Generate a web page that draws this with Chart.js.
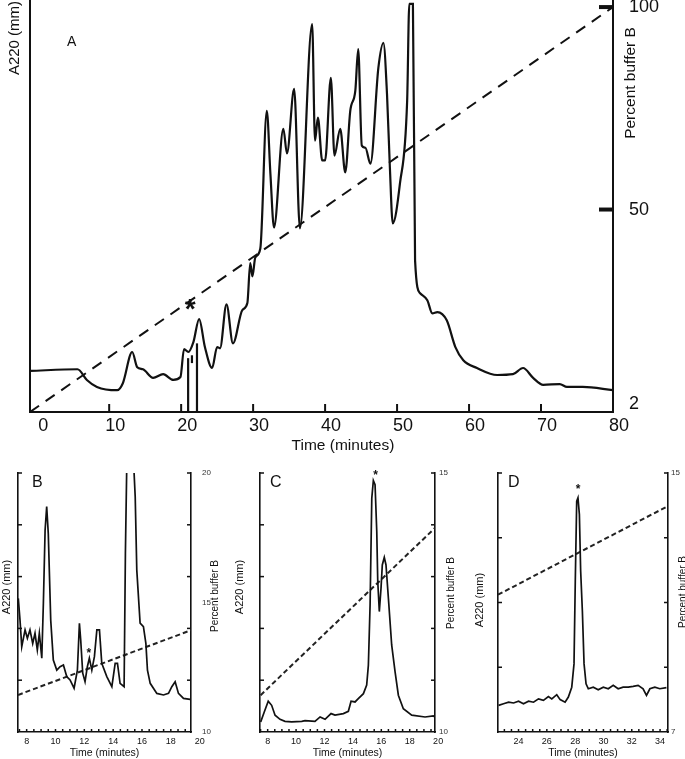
<!DOCTYPE html>
<html>
<head>
<meta charset="utf-8">
<script src="https://cdn.jsdelivr.net/npm/chart.js@4.4.1/dist/chart.umd.min.js"></script>
<style>
  html, body { margin: 0; padding: 0; background: #fff; }
  #wrap { position: relative; width: 685px; height: 759px; overflow: hidden; background: #fff; }
  canvas { position: absolute; }
</style>
</head>
<body>
<div id="wrap">
  <canvas id="chartA" width="685" height="455" style="left:0;top:0"></canvas>
  <canvas id="chartB" width="228" height="304" style="left:0;top:455px"></canvas>
  <canvas id="chartC" width="228" height="304" style="left:228px;top:455px"></canvas>
  <canvas id="chartD" width="229" height="304" style="left:456px;top:455px"></canvas>
</div>
<script>
// ---- panel A: whole run, 0-80 min ----
const timeA = [-1.0, 5.6, 6.9, 8.3, 11.1, 11.9, 13.2, 13.9, 14.7, 16.1, 17.5, 18.9, 19.9, 20.4, 21.0,
  21.7, 22.5, 23.3, 24.3, 25.0, 25.4, 26.3, 27.2, 28.5, 29.2, 29.6, 29.9, 30.3, 31.0, 31.9, 32.4,
  32.9, 34.2, 34.7, 35.7, 36.5, 38.2, 38.6, 39.0, 39.6, 40.0, 40.8, 41.3, 42.1, 42.8, 43.5, 44.2,
  44.6, 45.1, 45.6, 46.3, 47.4, 48.1, 48.6, 49.0, 49.4, 50.4, 51.4, 51.7, 52.2, 52.5, 53.2, 54.2,
  54.9, 55.6, 56.9, 58.1, 59.2, 61.1, 63.9, 66.1, 67.5, 68.9, 70.3, 72.6, 73.6, 75.8, 80.0];
const signalA = [10.0, 10.4, 7.8, 6.1, 5.3, 7.0, 14.6, 10.9, 10.4, 8.3, 9.2, 7.8, 8.5, 15.3, 14.6,
  17.0, 22.6, 15.8, 10.7, 15.8, 15.5, 26.2, 16.7, 24.8, 26.5, 36.2, 33.0, 37.6, 39.8, 73.3, 58.0,
  44.9, 68.9, 62.9, 78.6, 44.7, 94.4, 66.0, 71.6, 61.2, 61.2, 81.3, 62.4, 68.9, 58.3, 73.3, 78.2,
  88.3, 64.8, 64.3, 60.4, 83.7, 89.8, 77.4, 59.5, 45.9, 55.6, 75.7, 99.3, 99.3, 36.9, 28.9, 27.2,
  24.0, 24.3, 22.3, 15.8, 12.6, 10.7, 9.0, 9.2, 10.7, 8.3, 6.6, 6.8, 6.1, 6.1, 5.3];
const gradTimeA = [-1, 80];
const gradPctA = [0, 100];
const spikeTimeA = [20.97, 21.5, 22.2];
const spikeLowA = [0, 11.9, 0];
const spikeHighA = [13.1, 13.8, 16.7];
const xTicksA = [0, 10, 20, 30, 40, 50, 60, 70, 80];
const pctTicksA = [2, 50, 100];
const starA = [21.25, 26.9];

// ---- panel B ----
const timeB = [7.42, 7.54, 7.66, 7.89, 8.05, 8.23, 8.42, 8.58, 8.74, 8.88, 9.05, 9.16, 9.28, 9.39,
  9.50, 9.67, 9.85, 10.09, 10.32, 10.55, 10.78, 11.01, 11.29, 11.52, 11.66, 11.75, 11.89, 12.05,
  12.21, 12.35, 12.52, 12.70, 12.87, 13.05, 13.21, 13.56, 13.91, 14.14, 14.30, 14.48, 14.76, 14.85,
  14.95, 15.41, 15.53, 15.64, 15.87, 16.10, 16.27, 16.38, 16.57, 17.03, 17.49, 17.84, 18.07, 18.30,
  18.53, 18.88, 19.34];
const signalB = [51.6, 43.2, 32.9, 39.4, 36.2, 39.4, 34.2, 38.1, 31.7, 38.1, 28.5, 49.7, 78.0, 87.0,
  76.7, 43.2, 27.8, 23.9, 25.2, 25.9, 21.4, 20.1, 16.9, 23.9, 42.0, 35.5, 22.7, 19.4,
  25.2, 28.5, 23.9, 29.1, 39.4, 39.4, 26.5, 21.4, 17.5, 26.5, 26.5, 18.8, 17.5, 69.0,
  105, 105, 90.8, 62.5, 42.0, 40.7, 34.2, 23.9, 18.8, 14.9, 14.3, 14.9, 17.5, 19.4,
  14.9, 13.0, 12.6];
const gradTimeB = [7.4, 19.4];
const gradPctB = [11.43, 13.93];
const xTicksB = [8, 10, 12, 14, 16, 18, 20];
const pctTicksB = [10, 15, 20];
const starB = [12.31, 31.7];

// ---- panel C ----
const timeC = [7.51, 7.76, 8.04, 8.28, 8.52, 8.87, 9.22, 9.69, 10.40, 10.63, 11.33, 11.69, 12.04,
  12.46, 12.74, 13.33, 13.68, 13.87, 14.15, 14.38, 14.74, 14.97, 15.09, 15.21, 15.33, 15.44, 15.56,
  15.68, 15.75, 15.86, 15.98, 16.07, 16.21, 16.33, 16.50, 16.73, 16.97, 17.20, 17.55, 18.14, 19.08,
  19.66, 19.78];
const signalC = [3.9, 7.7, 11.9, 10.3, 6.5, 4.9, 4.1, 3.9, 4.1, 4.4, 4.1, 5.8, 4.9,
  7.1, 6.5, 7.1, 8.0, 11.9, 11.6, 12.9, 14.8, 18.1, 25.8, 49.0, 90.3, 97.1, 95.5,
  77.4, 58.1, 46.5, 55.5, 64.5, 67.4, 64.5, 51.6, 33.6, 23.2, 14.2, 9.0, 6.5, 5.8,
  6.2, 5.8];
const gradTimeC = [7.5, 19.78];
const gradPctC = [10.71, 13.94];
const xTicksC = [8, 10, 12, 14, 16, 18, 20];
const pctTicksC = [10, 15];
const starC = [15.6, 100.3];

// ---- panel D ----
const timeD = [22.59, 22.94, 23.30, 23.65, 24.00, 24.35, 24.71, 25.06, 25.41, 25.76, 26.11, 26.35,
  26.70, 26.94, 27.29, 27.52, 27.76, 27.92, 28.01, 28.11, 28.20, 28.30, 28.39, 28.51, 28.63, 28.77,
  28.93, 29.28, 29.63, 29.99, 30.34, 30.69, 31.04, 31.39, 31.75, 32.10, 32.45, 32.80, 33.04, 33.28,
  33.63, 33.98, 34.45];
const signalD = [10.3, 10.9, 11.5, 11.2, 11.9, 10.9, 11.9, 11.5, 12.8, 12.2, 13.7, 12.8,
  14.4, 12.5, 11.5, 13.5, 17.3, 26.3, 58.3, 89.1, 90.4, 84.0, 62.2, 46.8, 26.3, 18.6,
  16.7, 17.3, 16.3, 17.3, 16.7, 18.0, 16.7, 17.3, 17.3, 17.6, 18.0, 16.7, 14.1, 16.7,
  17.3, 16.7, 17.1];
const gradTimeD = [22.55, 34.56];
const gradPctD = [11.24, 13.98];
const xTicksD = [24, 26, 28, 30, 32, 34];
const pctTicksD = [7, 15];
const starD = [28.2, 94.9];

Chart.defaults.font.family = "'Liberation Sans', Arial, sans-serif";
Chart.defaults.color = '#111';

const INK = '#111';

function pts(xs, ys) {
  return xs.map((x, i) => ({ x: x, y: ys[i] }));
}

function steps(a, b, step) {
  const out = [];
  for (let v = a; v <= b + 1e-9; v += step) out.push(+v.toFixed(3));
  return out;
}

// keep the chart area exactly where the boxes put it
function fitH(h) {
  return s => { s.height = h; s.paddingLeft = 0; s.paddingRight = 0; };
}
function fitW(w) {
  return s => { s.width = w; s.paddingTop = 0; s.paddingBottom = 0; };
}

// little tick marks drawn inwards, free text and the asterisk
const deco = {
  id: 'deco',
  afterDraw(chart, args, o) {
    const { ctx, chartArea: a, scales } = chart;
    ctx.save();
    ctx.strokeStyle = INK;
    (o.marks || []).forEach(m => {
      const s = scales[m.scale];
      ctx.lineWidth = m.width;
      m.values.forEach(v => {
        const p = s.getPixelForValue(v);
        ctx.beginPath();
        if (m.side === 'bottom') { ctx.moveTo(p, a.bottom); ctx.lineTo(p, a.bottom - m.len); }
        else if (m.side === 'right') { ctx.moveTo(a.right, p); ctx.lineTo(a.right - m.len, p); }
        else { ctx.moveTo(a.left, p); ctx.lineTo(a.left + m.len, p); }
        ctx.stroke();
      });
    });
    ctx.fillStyle = INK;
    (o.texts || []).forEach(t => {
      const x = (t.from === 'right' ? a.right : a.left) + t.dx;
      const y = a.top + t.dy;
      ctx.save();
      ctx.font = t.font;
      ctx.textAlign = t.align || 'center';
      ctx.textBaseline = 'middle';
      ctx.translate(x, y);
      if (t.vertical) ctx.rotate(-Math.PI / 2);
      ctx.fillText(t.text, 0, 0);
      ctx.restore();
    });
    if (o.star) {
      const px = scales.x.getPixelForValue(o.star[0]);
      const py = scales.y.getPixelForValue(o.star[1]);
      ctx.font = 'bold ' + o.starSize + 'px "Liberation Sans", Arial, sans-serif';
      ctx.textAlign = 'center';
      ctx.textBaseline = 'alphabetic';
      ctx.fillText('*', px, py + o.starSize * 0.575);
    }
    ctx.restore();
  }
};

function hidden() {
  return { display: false, drawTicks: false };
}

// ---- chart A ----
const spikeSets = spikeTimeA.map((t, i) => ({
  data: pts([t, t], [spikeLowA[i], spikeHighA[i]]),
  yAxisID: 'y', borderColor: INK, borderWidth: 2.2, pointRadius: 0
}));

new Chart(document.getElementById('chartA'), {
  type: 'line',
  data: {
    datasets: [
      { data: pts(timeA, signalA), yAxisID: 'y', borderColor: INK, borderWidth: 2.2,
        pointRadius: 0, cubicInterpolationMode: 'monotone' },
      { data: pts(gradTimeA, gradPctA), yAxisID: 'y2', borderColor: INK, borderWidth: 2,
        borderDash: [11, 8], pointRadius: 0 },
      ...spikeSets
    ]
  },
  options: {
    responsive: false,
    animation: false,
    devicePixelRatio: 1,
    layout: { padding: { top: 1 } },
    plugins: {
      legend: { display: false },
      tooltip: { enabled: false },
      deco: {
        marks: [
          { scale: 'x', side: 'bottom', values: xTicksA.slice(1, -1), len: 8, width: 2 },
          { scale: 'y2', side: 'right', values: [50, 100], len: 14, width: 4 }
        ],
        texts: [
          { text: 'A220 (mm)', from: 'left', dx: -15, dy: 37, vertical: true, font: '15px "Liberation Sans", Arial' },
          { text: 'Percent buffer B', from: 'right', dx: 18, dy: 82, vertical: true, font: '15.5px "Liberation Sans", Arial' },
          { text: 'Time (minutes)', from: 'left', dx: 313, dy: 445, font: '15.5px "Liberation Sans", Arial' },
          { text: 'A', from: 'left', dx: 37, dy: 41, align: 'left', font: '14px "Liberation Sans", Arial' }
        ],
        star: starA,
        starSize: 28
      }
    },
    scales: {
      x: {
        type: 'linear', min: -1, max: 80,
        afterBuildTicks: s => { s.ticks = xTicksA.map(v => ({ value: v })); },
        afterFit: fitH(43),
        grid: hidden(),
        border: { color: INK, width: 2 },
        ticks: { color: INK, font: { size: 18 }, padding: 3, labelOffset: 6, maxRotation: 0, autoSkip: false }
      },
      y: {
        min: 0, max: 100,
        afterFit: fitW(30),
        grid: hidden(),
        border: { color: INK, width: 2 },
        ticks: { display: false }
      },
      y2: {
        position: 'right', min: 0, max: 101.5,
        afterBuildTicks: s => { s.ticks = pctTicksA.map(v => ({ value: v })); },
        afterFit: fitW(72),
        grid: hidden(),
        border: { color: INK, width: 2 },
        ticks: { color: INK, font: { size: 18 }, padding: 16 }
      }
    }
  },
  plugins: [deco]
});

// ---- small panels B, C, D ----
function smallPanel(id, p) {
  new Chart(document.getElementById(id), {
    type: 'line',
    data: {
      datasets: [
        { data: pts(p.time, p.signal), yAxisID: 'y', borderColor: INK, borderWidth: 1.7,
          pointRadius: 0, tension: 0 },
        { data: pts(p.gradTime, p.gradPct), yAxisID: 'y2', borderColor: '#222', borderWidth: 2,
          borderDash: [5, 3], pointRadius: 0 }
      ]
    },
    options: {
      responsive: false,
      animation: false,
      devicePixelRatio: 1,
      layout: { padding: { top: 18 } },
      plugins: {
        legend: { display: false },
        tooltip: { enabled: false },
        deco: {
          marks: [
            { scale: 'x', side: 'bottom', values: steps(Math.ceil(p.xMin * 2) / 2, p.xMax, 0.5), len: 3, width: 1.5 },
            { scale: 'y', side: 'left', values: p.leftMarks, len: 4, width: 1.5 },
            { scale: 'y', side: 'right', values: p.leftMarks, len: 4, width: 1.5 }
          ],
          texts: [
            { text: 'A220 (mm)', from: 'left', dx: p.leftTitleDx, dy: p.leftTitleDy, vertical: true, font: '11px "Liberation Sans", Arial' },
            { text: 'Percent buffer B', from: 'right', dx: p.rightTitleDx, dy: p.rightTitleDy, vertical: true, font: '10px "Liberation Sans", Arial' },
            { text: p.letter, from: 'left', dx: p.letterDx, dy: 9.5, align: 'left', font: '16px "Liberation Sans", Arial' }
          ],
          star: p.star,
          starSize: 12
        }
      },
      scales: {
        x: {
          type: 'linear', min: p.xMin, max: p.xMax,
          afterBuildTicks: s => { s.ticks = p.xTicks.map(v => ({ value: v })); },
          afterFit: fitH(27),
          grid: hidden(),
          border: { color: INK, width: 1.6 },
          ticks: { color: INK, font: { size: 9 }, padding: 4, maxRotation: 0, autoSkip: false },
          title: { display: true, text: 'Time (minutes)', color: INK, font: { size: 10.5 }, padding: { top: 0, bottom: 0 } }
        },
        y: {
          min: 0, max: 100,
          afterFit: fitW(p.leftW),
          grid: hidden(),
          border: { color: INK, width: 1.6 },
          ticks: { display: false }
        },
        y2: {
          position: 'right', min: p.pctMin, max: p.pctMax,
          afterBuildTicks: s => { s.ticks = p.pctTicks.map(v => ({ value: v })); },
          afterFit: fitW(p.rightW),
          grid: hidden(),
          border: { color: INK, width: 1.6 },
          ticks: { color: '#333', font: { size: 8 }, padding: p.pctPad }
        }
      }
    },
    plugins: [deco]
  });
}

smallPanel('chartB', {
  time: timeB, signal: signalB, gradTime: gradTimeB, gradPct: gradPctB,
  xMin: 7.4, xMax: 19.4, xTicks: xTicksB, pctMin: 10, pctMax: 20, pctTicks: pctTicksB,
  leftMarks: [20, 40, 60, 80, 100], star: starB, letter: 'B',
  leftW: 18, rightW: 37, pctPad: 11,
  leftTitleDx: -11, leftTitleDy: 114, rightTitleDx: 24, rightTitleDy: 123, letterDx: 14
});

smallPanel('chartC', {
  time: timeC, signal: signalC, gradTime: gradTimeC, gradPct: gradPctC,
  xMin: 7.46, xMax: 19.78, xTicks: xTicksC, pctMin: 10, pctMax: 15, pctTicks: pctTicksC,
  leftMarks: [20, 40, 60, 80, 100], star: starC, letter: 'C',
  leftW: 32, rightW: 21, pctPad: 4,
  leftTitleDx: -20, leftTitleDy: 114, rightTitleDx: 16, rightTitleDy: 120, letterDx: 10
});

smallPanel('chartD', {
  time: timeD, signal: signalD, gradTime: gradTimeD, gradPct: gradPctD,
  xMin: 22.55, xMax: 34.56, xTicks: xTicksD, pctMin: 7, pctMax: 15, pctTicks: pctTicksD,
  leftMarks: [25, 50, 75, 100], star: starD, letter: 'D',
  leftW: 42, rightW: 17, pctPad: 3,
  leftTitleDx: -18, leftTitleDy: 127, rightTitleDx: 15, rightTitleDy: 119, letterDx: 10
});
</script>
</body>
</html>
